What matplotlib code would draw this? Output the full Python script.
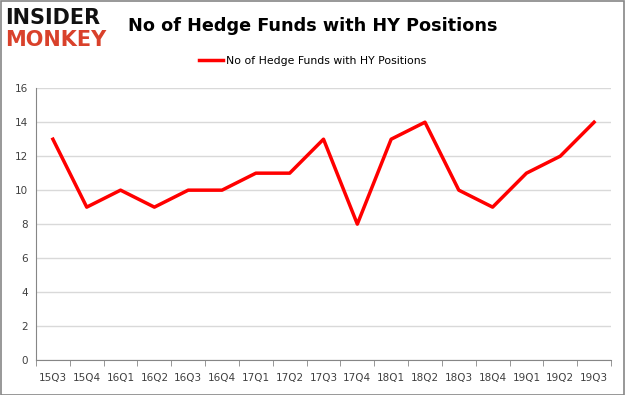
import matplotlib.pyplot as plt
import numpy as np

quarters = ['15Q3', '15Q4', '16Q1', '16Q2', '16Q3', '16Q4', '17Q1', '17Q2', '17Q3',
            '17Q4', '18Q1', '18Q2', '18Q3', '18Q4', '19Q1', '19Q2', '19Q3']
funds = [13, 9, 10, 9, 10, 10, 11, 11, 13, 8, 13, 14, 10, 9, 11, 12, 14]
series_name = 'No of Hedge Funds with HY Positions'

fig = plt.figure(figsize=(6.25, 3.95), dpi=100)
ax = fig.add_axes([0.0576, 0.0886, 0.92, 0.688])

x = np.arange(len(quarters))
ax.plot(x, funds, color='#ff0000', linewidth=2.5, label=series_name)

ax.set_xlim(-0.5, len(quarters) - 0.5)
ax.set_ylim(0, 16)
ax.set_yticks(range(0, 17, 2))
ax.grid(axis='y', color='#d9d9d9', linewidth=1)
ax.set_axisbelow(True)

ax.set_xticks(x)
ax.set_xticklabels(quarters, fontsize=7.5, color='#404040')
ax.set_xticks(np.arange(-0.5, len(quarters), 1), minor=True)
ax.tick_params(axis='x', which='major', length=0, pad=9)
ax.tick_params(axis='x', which='minor', length=4, color='#868686', direction='out')
ax.tick_params(axis='y', length=0, labelsize=7.5, labelcolor='#404040', pad=6)

for side in ['top', 'right']:
    ax.spines[side].set_visible(False)
ax.spines['left'].set_color('#868686')
ax.spines['bottom'].set_color('#868686')

fig.text(0.205, 0.935, 'No of Hedge Funds with HY Positions', fontsize=12.7,
         fontweight='bold', ha='left', va='center')
fig.legend(loc='center', bbox_to_anchor=(0.5, 0.845), frameon=False,
           fontsize=7.8, handlelength=2.2, handletextpad=0.3)

# logo
fig.text(0.008, 0.955, 'INSIDER', fontsize=15, fontweight='black', color='#111111',
         ha='left', va='center')
fig.text(0.008, 0.9, 'MONKEY', fontsize=15, fontweight='black', color='#d9412b',
         ha='left', va='center')

# outer border
fig.patches.append(plt.Rectangle((0.001, 0.001), 0.997, 0.997, transform=fig.transFigure,
                                 fill=False, edgecolor='#868686', linewidth=1.2))

fig.savefig('out.png', dpi=100)
